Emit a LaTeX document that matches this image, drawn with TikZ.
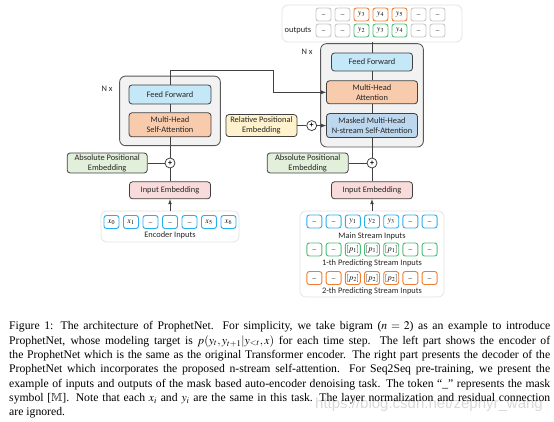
\documentclass[tikz,border=0pt]{standalone}
\usepackage{amsfonts}
\usepackage{amsmath}
\usepackage{mathptmx}
\usepackage{fontspec}
\setmainfont{Liberation Serif}
\setsansfont{Carlito}
\newfontfamily\markfont{Liberation Sans}
\usepackage{tikz}
\usetikzlibrary{arrows, positioning, fit, backgrounds}

\definecolor{ffblue}{RGB}{196,232,247}
\definecolor{attorange}{RGB}{248,203,173}
\definecolor{maskblue}{RGB}{189,215,238}
\definecolor{relyellow}{RGB}{255,242,204}
\definecolor{absgreen}{RGB}{226,239,218}
\definecolor{embpink}{RGB}{250,219,219}
\definecolor{stackgray}{RGB}{242,242,242}
\definecolor{linegray}{RGB}{64,64,64}
\definecolor{holdgray}{RGB}{226,226,226}
\definecolor{cellblue}{RGB}{40,175,240}
\definecolor{cellgreen}{RGB}{75,190,120}
\definecolor{cellorange}{RGB}{237,125,49}
\definecolor{cellgray}{RGB}{200,200,200}

\newcommand{\msk}{\raisebox{-1.5pt}{\fontsize{7}{7}\selectfont\_}}

\begin{document}
\begin{tikzpicture}[>=latex, x=1pt, y=-1pt,
  block/.style={draw=linegray, line width=0.8pt, rounded corners=3pt, align=center,
    inner sep=0pt, font=\sffamily\fontsize{8.4}{10}\selectfont, text=black!85},
  stackbox/.style={draw=black!65, fill=stackgray, line width=0.9pt, rounded corners=6pt},
  holder/.style={draw=holdgray, fill=white, line width=0.7pt, rounded corners=6pt},
  cell/.style={draw, fill=white, line width=0.9pt, rounded corners=2.5pt, minimum width=15pt,
    minimum height=13pt, inner sep=0pt, font=\fontsize{8}{8}\selectfont},
  plus/.style={draw=linegray, fill=white, circle, line width=0.8pt, minimum size=10pt,
    inner sep=0pt, font=\sffamily\bfseries\fontsize{8}{8}\selectfont},
  lbl/.style={font=\sffamily\fontsize{8.4}{10}\selectfont, text=black!85, inner sep=0pt},
  conn/.style={draw=linegray, line width=0.7pt}]

\useasboundingbox (0,0) rectangle (554,422);

% encoder
\node[block, fill=ffblue, minimum width=82pt, minimum height=19pt] (encff) at (170,94.5) {Feed Forward};
\node[block, fill=attorange, minimum width=82pt, minimum height=24pt, below = 8pt of encff] (encatt) {Multi-Head\\Self-Attention};

\node[plus] (encplus) at (170,163) {+};
\node[block, fill=absgreen, minimum width=80pt, minimum height=20pt, left = 17pt of encplus] (encabs) {Absolute Positional\\Embedding};
\node[block, fill=embpink, minimum width=81pt, minimum height=17pt, below = 13pt of encplus] (encemb) {Input Embedding};

\node[holder, minimum width=138pt, minimum height=31pt] (encin) at (170,226.5) {};
\foreach \t [count=\i from 0] in {$x_0$,$x_1$,\msk,\msk,\msk,$x_5$,$x_6$}
  \node[cell, draw=cellblue] (enc\i) at ({170+19.5*(\i-3)},222) {\t};
\node[lbl] (enclbl) at (170,235.5) {Encoder Inputs};

\begin{scope}[on background layer]
\node[stackbox, fit = (encff) (encatt), inner xsep=9pt, inner ysep=8.5pt] (encstack) {};
\end{scope}
\node[lbl] (encn) at (107,89) {N x};

% decoder
\node[block, fill=ffblue, minimum width=81pt, minimum height=18pt] (decff) at (372,62) {Feed Forward};
\node[block, fill=attorange, minimum width=91pt, minimum height=23pt, below = 9pt of decff] (decatt) {Multi-Head\\Attention};
\node[block, fill=maskblue, minimum width=91pt, minimum height=24pt, below = 9pt of decatt] (decmask) {Masked Multi-Head\\N-stream Self-Attention};

\node[plus, left = 9pt of decmask] (relplus) {+};
\node[block, fill=relyellow, minimum width=71pt, minimum height=22pt, left = 9pt of relplus] (relpe) {Relative Positional\\Embedding};

\node[plus] (decplus) at (372,163) {+};
\node[block, fill=absgreen, minimum width=81pt, minimum height=20pt, left = 18pt of decplus] (decabs) {Absolute Positional\\Embedding};
\node[block, fill=embpink, minimum width=81pt, minimum height=17pt, below = 13pt of decplus] (decemb) {Input Embedding};

\begin{scope}[on background layer]
\node[stackbox, fit = (decff) (decatt) (decmask), inner xsep=5.5pt, inner ysep=9pt] (decstack) {};
\end{scope}
\node[lbl] (decn) at (307,52) {N x};

\node[holder, minimum width=144pt, minimum height=86pt] (decin) at (372,254) {};
\foreach \t [count=\i from 0] in {\msk,\msk,$y_1$,$y_2$,$y_3$,\msk,\msk}
  \node[cell, draw=cellblue] (main\i) at ({372+19.2*(\i-3)},221.5) {\t};
\node[lbl] (mainlbl) at (372,236) {Main Stream Inputs};
\foreach \t [count=\i from 0] in {\msk,\msk,$[p_1]$,$[p_1]$,$[p_1]$,\msk,\msk}
  \node[cell, draw=cellgreen] (one\i) at ({372+19.2*(\i-3)},249.5) {\t};
\node[lbl] (onelbl) at (372,263.5) {1-th Predicting Stream Inputs};
\foreach \t [count=\i from 0] in {\msk,\msk,$[p_2]$,$[p_2]$,$[p_2]$,\msk,\msk}
  \node[cell, draw=cellorange] (two\i) at ({372+19.2*(\i-3)},278) {\t};
\node[lbl] (twolbl) at (372,291) {2-th Predicting Stream Inputs};

% outputs
\node[holder, minimum width=180pt, minimum height=37pt] (outs) at (372,23.5) {};
\node[lbl] (outlbl) at (298,30.5) {outputs};
\foreach \t/\c [count=\i from 0] in {\msk/cellgray,\msk/cellgray,$y_3$/cellorange,$y_4$/cellorange,$y_5$/cellorange,\msk/cellgray,\msk/cellgray}
  \node[cell, draw=\c] (top\i) at ({380.5+19*(\i-3)},14.5) {\t};
\foreach \t/\c [count=\i from 0] in {\msk/cellgray,\msk/cellgray,$y_2$/cellgreen,$y_3$/cellgreen,$y_4$/cellgreen,\msk/cellgray,\msk/cellgray}
  \node[cell, draw=\c] (bot\i) at ({380.5+19*(\i-3)},30.5) {\t};

% connectors
\draw[conn, ->] (encin) -- (encemb);
\draw[conn] (encemb) -- (encplus);
\draw[conn] (encplus) -- (encatt);
\draw[conn] (encabs) -- (encplus);
\draw[conn] (encatt) -- (encff);

\coordinate (bend) at (273,70);
\draw[conn, ->] (encff.north) |- (bend) |- (decatt.west);

\draw[conn, ->] (decin) -- (decemb);
\draw[conn] (decemb) -- (decplus);
\draw[conn] (decplus) -- (decmask);
\draw[conn] (decabs) -- (decplus);
\draw[conn] (decmask) -- (decatt);
\draw[conn] (decatt) -- (decff);
\draw[conn] (relpe) -- (relplus);
\draw[conn, ->] (relplus) -- (decmask);
\draw[conn] (decff) -- (outs);

% caption
\node[font=\markfont\fontsize{15}{15}\selectfont, text=gray!30, anchor=east, inner sep=0pt] (mark) at (543,405) {https://blog.csdn.net/zephyr\_wang};
\node[anchor=north west, inner sep=0pt, text width=541pt, align=justify, font=\fontsize{11.7}{14.3}\selectfont] (caption) at (9,321.5)
{Figure 1: The architecture of ProphetNet. For simplicity, we take bigram ($n=2$) as an example to introduce\linebreak
ProphetNet, whose modeling target is $p(y_t,y_{t+1}|y_{<t},x)$ for each time step. The left part shows the encoder of\linebreak
the ProphetNet which is the same as the original Transformer encoder. The right part presents the decoder of the\linebreak
ProphetNet which incorporates the proposed n-stream self-attention. For Seq2Seq pre-training, we present the\linebreak
example of inputs and outputs of the mask based auto-encoder denoising task. The token “\_” represents the mask\linebreak
symbol [$\mathbb{M}$]. Note that each $x_i$ and $y_i$ are the same in this task. The layer normalization and residual connection\linebreak
are ignored.};

\end{tikzpicture}
\end{document}
